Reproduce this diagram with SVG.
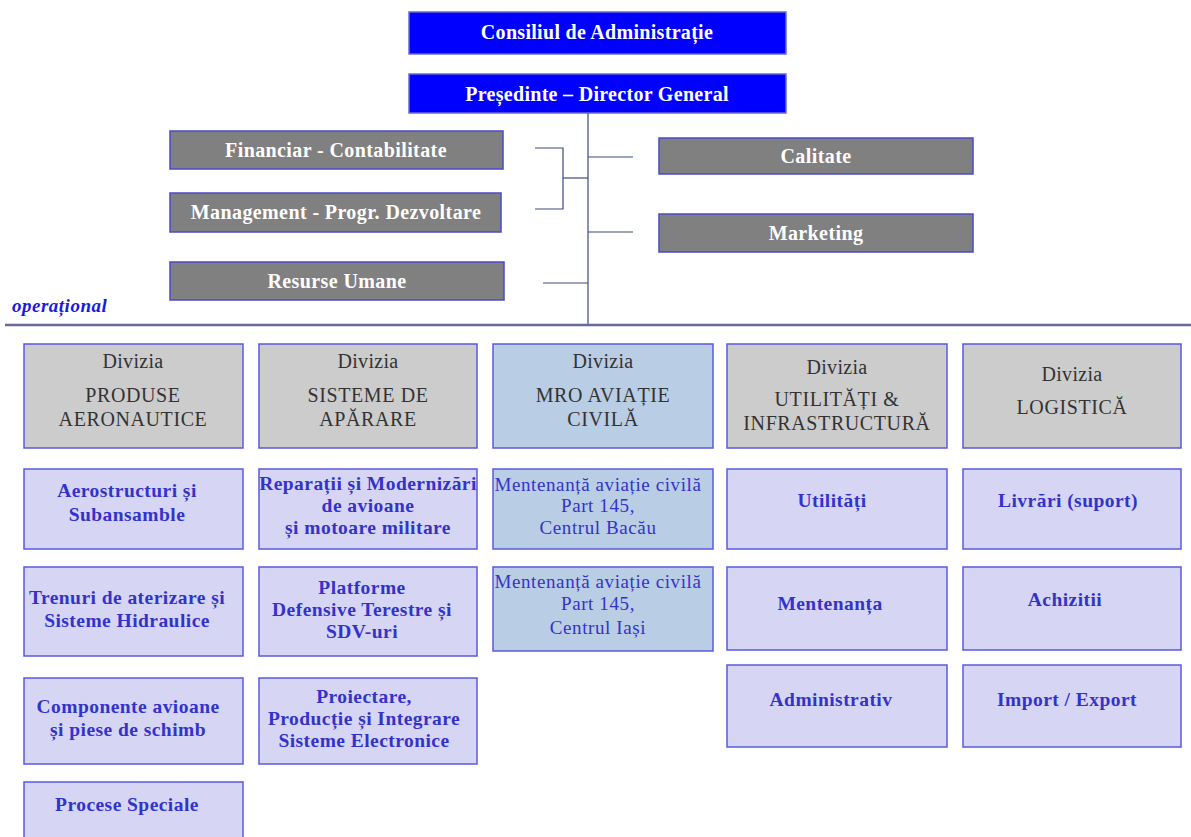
<svg xmlns="http://www.w3.org/2000/svg" width="1191" height="837" viewBox="0 0 1191 837">
<style>
text{font-family:"Liberation Serif","DejaVu Serif",serif;text-anchor:middle}
.top{fill:#0000ff;stroke:#6a6ad0;stroke-width:1.5}
.topt{fill:#ffffff;font-weight:bold;font-size:20px;letter-spacing:0.3px}
.gr{fill:#808080;stroke:#4a4ac8;stroke-width:1.5}
.grt{fill:#ffffff;font-weight:bold;font-size:20px;letter-spacing:0.4px}
.div{fill:#cccccc;stroke:#5a5ae0;stroke-width:1.5}
.mro{fill:#b9cde5;stroke:#5a5ae0;stroke-width:1.5}
.sub{fill:#d6d6f4;stroke:#5a5ae0;stroke-width:1.5}
.dt{fill:#333333;font-size:20px;letter-spacing:0.3px}
.dh{fill:#333333;font-size:20px;letter-spacing:0.6px}
.st{fill:#3333cc;font-weight:bold;font-size:19.5px;letter-spacing:0.45px}
.mt{fill:#3333cc;font-size:19px;letter-spacing:0.6px}
.con{stroke:#3a4a80;stroke-width:1.2;fill:none}
</style>
<g id="connectors">
<line class="con" x1="588" y1="113" x2="588" y2="325"/>
<polyline class="con" points="535,148 563,148 563,209 535,209"/>
<line class="con" x1="563" y1="178" x2="588" y2="178"/>
<line class="con" x1="588" y1="157" x2="633" y2="157"/>
<line class="con" x1="588" y1="232" x2="633" y2="232"/>
<line class="con" x1="543" y1="283" x2="588" y2="283"/>
<line x1="5" y1="325" x2="1191" y2="325" stroke="#6a6a9a" stroke-width="2.5"/>
</g>
<text x="12" y="312" style="text-anchor:start;font-style:italic;font-weight:bold;font-size:19px;letter-spacing:0.5px;fill:#1a1ae0">operațional</text>
<g id="consiliu"><rect class="top" x="409" y="12" width="377" height="42"/><text class="topt" x="597" y="39">Consiliul de Administrație</text></g>
<g id="presedinte"><rect class="top" x="409" y="74" width="377" height="39"/><text class="topt" x="597" y="101">Președinte – Director General</text></g>
<g id="financiar"><rect class="gr" x="170" y="131" width="333" height="38"/><text class="grt" x="336" y="157">Financiar - Contabilitate</text></g>
<g id="management"><rect class="gr" x="170" y="193" width="331" height="39"/><text class="grt" x="336" y="219">Management - Progr. Dezvoltare</text></g>
<g id="resurse"><rect class="gr" x="170" y="262" width="334" height="38"/><text class="grt" x="337" y="288">Resurse Umane</text></g>
<g id="calitate"><rect class="gr" x="659" y="138" width="314" height="36"/><text class="grt" x="816" y="163">Calitate</text></g>
<g id="marketing"><rect class="gr" x="659" y="214" width="314" height="38"/><text class="grt" x="816" y="240">Marketing</text></g>

<g id="div-produse"><rect class="div" x="24" y="344" width="219" height="104"/><text class="dt" x="133" y="368">Divizia</text><text class="dh" x="133" y="402">PRODUSE</text><text class="dh" x="133" y="426">AERONAUTICE</text></g>
<g id="div-aparare"><rect class="div" x="259" y="344" width="218" height="104"/><text class="dt" x="368" y="368">Divizia</text><text class="dh" x="368" y="402">SISTEME DE</text><text class="dh" x="368" y="426">APĂRARE</text></g>
<g id="div-mro"><rect class="mro" x="493" y="344" width="220" height="104"/><text class="dt" x="603" y="368">Divizia</text><text class="dh" x="603" y="402">MRO AVIAȚIE</text><text class="dh" x="603" y="426">CIVILĂ</text></g>
<g id="div-utilitati"><rect class="div" x="727" y="344" width="220" height="104"/><text class="dt" x="837" y="374">Divizia</text><text class="dh" x="837" y="406">UTILITĂȚI &amp;</text><text class="dh" x="837" y="430">INFRASTRUCTURĂ</text></g>
<g id="div-logistica"><rect class="div" x="963" y="344" width="218" height="104"/><text class="dt" x="1072" y="381">Divizia</text><text class="dh" x="1072" y="414">LOGISTICĂ</text></g>

<g id="aerostructuri"><rect class="sub" x="24" y="469" width="219" height="80"/><text class="st" x="127" y="497">Aerostructuri  și</text><text class="st" x="127" y="521">Subansamble</text></g>
<g id="reparatii"><rect class="sub" x="259" y="469" width="218" height="80"/><text class="st" x="368" y="490">Reparații și Modernizări</text><text class="st" x="368" y="512">de avioane</text><text class="st" x="368" y="534">și motoare militare</text></g>
<g id="mro-bacau"><rect class="mro" x="493" y="469" width="220" height="80"/><text class="mt" x="598" y="491">Mentenanță aviație civilă</text><text class="mt" x="598" y="512">Part 145,</text><text class="mt" x="598" y="534">Centrul Bacău</text></g>
<g id="utilitati"><rect class="sub" x="727" y="469" width="220" height="80"/><text class="st" x="832" y="507">Utilități</text></g>
<g id="livrari"><rect class="sub" x="963" y="469" width="218" height="80"/><text class="st" x="1068" y="507">Livrări (suport)</text></g>

<g id="trenuri"><rect class="sub" x="24" y="567" width="219" height="89"/><text class="st" x="127" y="604">Trenuri de aterizare și</text><text class="st" x="127" y="627">Sisteme Hidraulice</text></g>
<g id="platforme"><rect class="sub" x="259" y="567" width="218" height="89"/><text class="st" x="362" y="594">Platforme</text><text class="st" x="362" y="616">Defensive Terestre și</text><text class="st" x="362" y="638">SDV-uri</text></g>
<g id="mro-iasi"><rect class="mro" x="493" y="567" width="220" height="84"/><text class="mt" x="598" y="588">Mentenanță aviație civilă</text><text class="mt" x="598" y="610">Part 145,</text><text class="mt" x="598" y="634">Centrul Iași</text></g>
<g id="mentenanta"><rect class="sub" x="727" y="567" width="220" height="83"/><text class="st" x="830" y="610">Mentenanța</text></g>
<g id="achizitii"><rect class="sub" x="963" y="567" width="218" height="83"/><text class="st" x="1065" y="606">Achizitii</text></g>

<g id="componente"><rect class="sub" x="24" y="678" width="219" height="86"/><text class="st" x="128" y="713">Componente avioane</text><text class="st" x="128" y="736">și piese de schimb</text></g>
<g id="proiectare"><rect class="sub" x="259" y="678" width="218" height="86"/><text class="st" x="364" y="703">Proiectare,</text><text class="st" x="364" y="725">Producție și Integrare</text><text class="st" x="364" y="747">Sisteme Electronice</text></g>
<g id="administrativ"><rect class="sub" x="727" y="665" width="220" height="82"/><text class="st" x="831" y="706">Administrativ</text></g>
<g id="import"><rect class="sub" x="963" y="665" width="218" height="82"/><text class="st" x="1067" y="706">Import / Export</text></g>

<g id="procese"><rect class="sub" x="24" y="782" width="219" height="60"/><text class="st" x="127" y="811">Procese Speciale</text></g>
</svg>
